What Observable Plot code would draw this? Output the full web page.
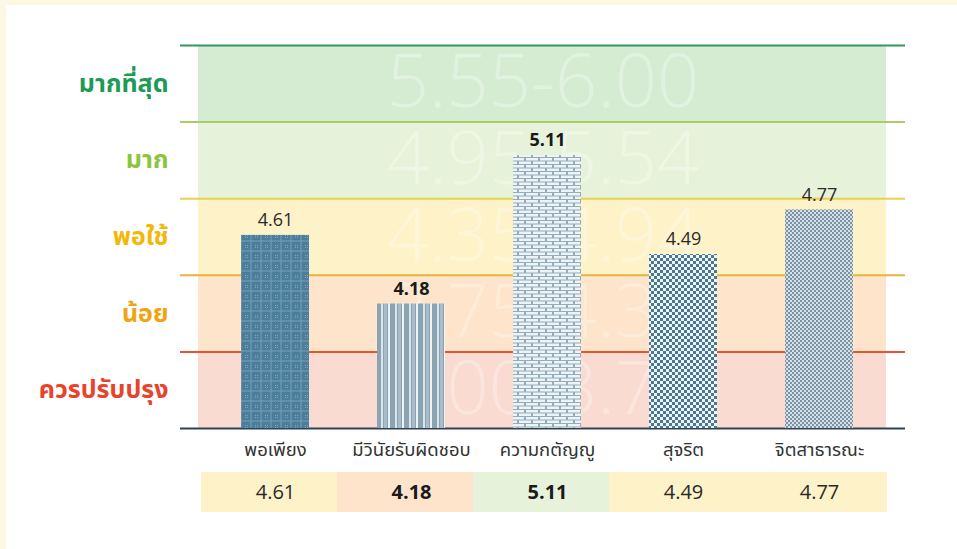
<!DOCTYPE html>
<html><head><meta charset="utf-8">
<script src="https://cdn.jsdelivr.net/npm/d3@7"></script>
<script src="https://cdn.jsdelivr.net/npm/@observablehq/plot@0.6"></script>
<style>
html,body{margin:0;padding:0;background:#fdf8e4;}
#wrap{position:relative;width:957px;height:549px;overflow:hidden;}
#card{position:absolute;left:6px;top:5px;right:0;bottom:0;background:#fff;}
.layer{position:absolute;left:0;}
</style></head><body><div id="wrap"><div id="card"></div></div>
<script>
// ---- data ----
const categories = ["พอเพียง", "มีวินัยรับผิดชอบ", "ความกตัญญู", "สุจริต", "จิตสาธารณะ"];
const values = [4.61, 4.18, 5.11, 4.49, 4.77];
const levelNames = ["ควรปรับปรุง", "น้อย", "พอใช้", "มาก", "มากที่สุด"];
const levelRanges = ["1.00-3.74", "3.75-4.34", "4.35-4.94", "4.95-5.54", "5.55-6.00"];
const levelThresholds = [3.75, 4.35, 4.95, 5.55];

// ---- styles ----
const style = {
  labelColors: ["#e8432b", "#f0a410", "#f2b707", "#8cc43e", "#1e9a57"],
  lineColors: ["#e4572e", "#eab23c", "#ead04e", "#a6cf66", "#2f9a5e"],
  fills: ["#f9dbd2", "#fde4ca", "#fdf2c8", "#e7f2da", "#d5ecd3"]
};
const FONT = "'Noto Sans Thai', 'Noto Sans', Lato, sans-serif";
const NUMFONT = "'Open Sans', Lato, sans-serif";
const W = 957, H = 549;

const levelOf = v => d3.bisectRight(levelThresholds, v);
const bands = levelNames.map((name, i) => ({i, name, range: levelRanges[i]}));
const data = categories.map((name, k) => ({name, value: values[k], k}));
const vmin = d3.min(values), vmax = d3.max(values);
const isExtreme = d => d.value === vmin || d.value === vmax;
const yDomain = [3.4, 5.8];

// layer 1: level bands
const p1 = Plot.plot({
  width: W, height: H, marginTop: 45, marginBottom: 121, marginLeft: 180, marginRight: 52,
  style: {background: "transparent", fontFamily: FONT},
  x: {domain: [0, 1], axis: null},
  y: {domain: [0, 5], axis: null},
  color: {type: "identity"},
  marks: [
    Plot.rect(bands, {x1: 0, x2: 1, y1: "i", y2: d => d.i + 1, fill: d => style.fills[d.i], insetLeft: 18, insetRight: 19}),
    Plot.text(bands, {x: 0.5, y: d => d.i + 0.5, text: "range", fill: "white", fillOpacity: 0.3, fontSize: 74, fontWeight: 300, fontFamily: NUMFONT}),
    Plot.ruleY(bands, {y: d => d.i + 1, stroke: d => style.lineColors[d.i], strokeWidth: 2}),
    Plot.ruleY([0], {stroke: "#2f4254", strokeWidth: 2}),
    Plot.text(bands, {x: 0, y: d => d.i + 0.5, text: "name", textAnchor: "end", dx: -12, fill: d => style.labelColors[d.i], fontSize: 25, fontWeight: "bold"})
  ]
});

// layer 2: bars
const p2 = Plot.plot({
  width: W, height: H, marginTop: 45, marginBottom: 121, marginLeft: 180, marginRight: 44,
  style: {background: "transparent", fontFamily: FONT},
  x: {domain: categories, paddingInner: 0.5, paddingOuter: 0.44, axis: null},
  y: {domain: yDomain, axis: null},
  color: {type: "identity"},
  marks: [
    Plot.barY(data, {x: "name", y1: yDomain[0], y2: "value", fill: d => `url(#pat-${d.k})`}),
    Plot.text(data, {filter: d => !isExtreme(d), x: "name", y: "value", text: d => d.value.toFixed(2), dy: -15, fontSize: 18, fill: "#2b2b2b", fontFamily: NUMFONT}),
    Plot.text(data, {filter: isExtreme, x: "name", y: "value", text: d => d.value.toFixed(2), dy: -15, fontSize: 18, fontWeight: "bold", fill: "#1a1a1a", fontFamily: NUMFONT}),
    Plot.text(data, {x: "name", text: "name", frameAnchor: "bottom", dy: 27, fontSize: 18.5, fill: "#333"})
  ]
});

// layer 3: value table
const p3 = Plot.plot({
  width: W, height: 40, marginTop: 0, marginBottom: 0, marginLeft: 180, marginRight: 44,
  style: {background: "transparent", fontFamily: NUMFONT},
  x: {domain: categories, paddingInner: 0, paddingOuter: 0.19, axis: null},
  color: {type: "identity"},
  marks: [
    Plot.cell(data, {x: "name", fill: d => style.fills[levelOf(d.value)], insetLeft: -6}),
    Plot.text(data, {filter: d => !isExtreme(d), x: "name", text: d => d.value.toFixed(2), frameAnchor: "middle", fontSize: 20, fill: "#2b2b2b"}),
    Plot.text(data, {filter: isExtreme, x: "name", text: d => d.value.toFixed(2), frameAnchor: "middle", fontSize: 20, fontWeight: "bold", fill: "#1a1a1a"})
  ]
});

// patterns for bars
const defs = d3.select(p2).insert("defs", ":first-child");
function pat(id, w, h, bg, rects) {
  const p = defs.append("pattern").attr("id", id).attr("patternUnits", "userSpaceOnUse").attr("width", w).attr("height", h);
  p.append("rect").attr("width", w).attr("height", h).attr("fill", bg);
  rects.forEach(([x, y, rw, rh, c, o]) => p.append("rect").attr("x", x).attr("y", y).attr("width", rw).attr("height", rh).attr("fill", c).attr("fill-opacity", o ?? 1));
}
pat("pat-0", 10, 10, "#4b7e9a", [[0, 0, 10, 2, "#6f9bb3", 0.6], [0, 0, 2, 10, "#6f9bb3", 0.6], [5, 5, 1, 1, "#8fb3c6", 0.8], [7, 7, 1, 1, "#8fb3c6", 0.8], [5, 7, 1, 1, "#8fb3c6", 0.8], [7, 5, 1, 1, "#8fb3c6", 0.8]]);
pat("pat-1", 14, 4, "#8ba4b4", [[3, 0, 2, 4, "#dbe5ea"], [6, 0, 3, 4, "#a9bcc8"], [10, 0, 2, 4, "#eef3f5"]]);
pat("pat-2", 14, 7, "#93acbc", [[1, 0.5, 12, 2.5, "#eef3f6"], [-6, 4, 12, 2.5, "#eef3f6"], [8, 4, 12, 2.5, "#eef3f6"]]);
pat("pat-3", 6, 6, "#eef3f6", [[0, 0, 3, 3, "#4b7891"], [3, 3, 3, 3, "#4b7891"]]);
pat("pat-4", 4, 4, "#d5e0e7", [[0, 0, 2, 2, "#7a94a6"], [2, 2, 2, 2, "#7a94a6"]]);

const wrap = document.getElementById("wrap");
[[p1, 0], [p2, 0], [p3, 472]].forEach(([el, top]) => {
  el.classList.add("layer");
  el.style.top = top + "px";
  wrap.appendChild(el);
});
</script>
</body></html>
